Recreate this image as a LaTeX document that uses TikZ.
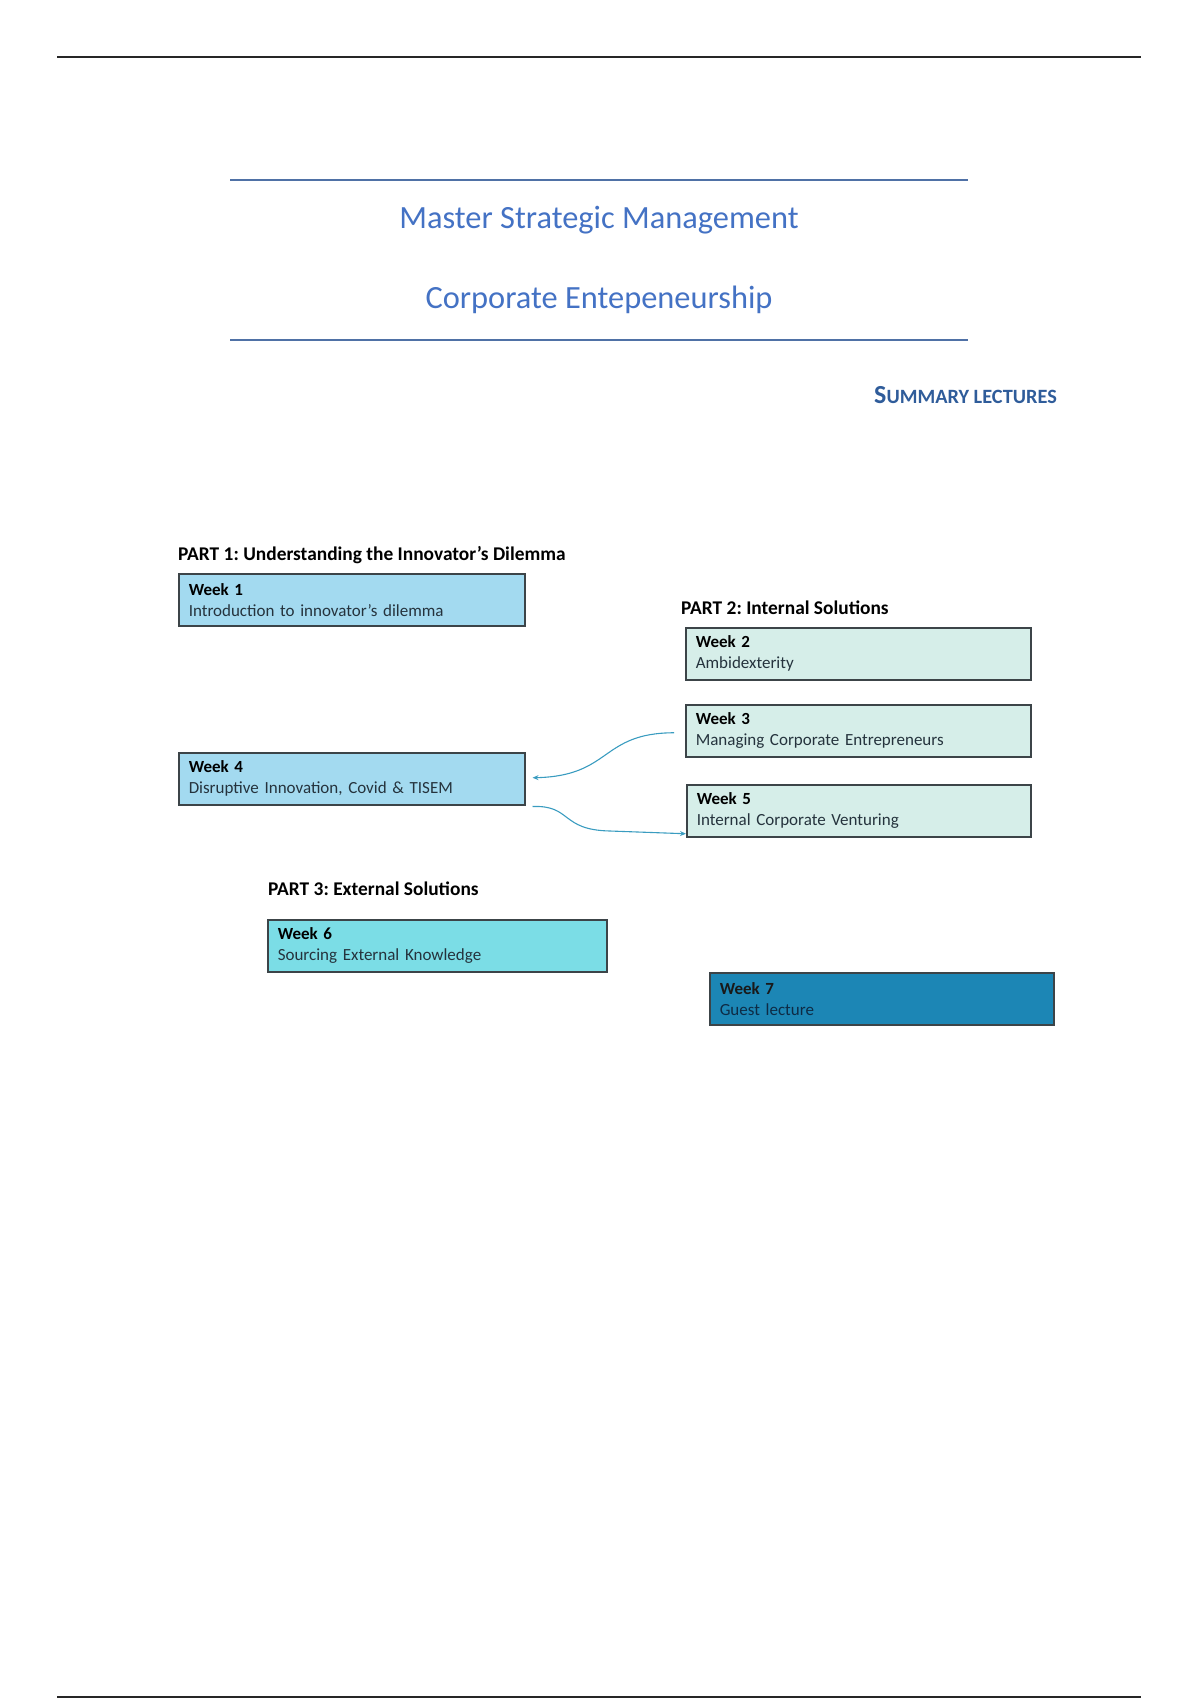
\documentclass[tikz,border=0pt]{standalone}
\usepackage{fontspec}
\setmainfont{Carlito}
\usetikzlibrary{calc,arrows.meta}
\definecolor{titleblue}{HTML}{4472C4}
\definecolor{rulecol}{HTML}{4F71A6}
\definecolor{sumblue}{HTML}{2F5C9A}
\definecolor{lightblue}{HTML}{A3DAF0}
\definecolor{mint}{HTML}{D6EEE9}
\definecolor{cyanbox}{HTML}{7BDDE6}
\definecolor{tealbox}{HTML}{1C86B5}
\definecolor{boxline}{HTML}{3C4448}
\definecolor{arrowcol}{HTML}{3A9CC0}
\definecolor{desccol}{HTML}{25333D}
\definecolor{navytext}{HTML}{0E2B45}
\frenchspacing
\begin{document}
\begin{tikzpicture}[x=1pt,y=-1pt,
  wbox/.style={draw=boxline, line width=1.5pt, anchor=north west, minimum height=52pt,
    inner xsep=10pt, inner ysep=0pt, align=left, text width=#1,
    font=\fontsize{17}{21}\selectfont, text=desccol},
  parthead/.style={anchor=west, inner sep=0pt, font=\fontsize{19.4}{23}\selectfont\bfseries, text=black},
  titletext/.style={inner sep=0pt, text=titleblue, font=\fontsize{32.4}{38}\selectfont},
  conn/.style={draw=arrowcol, line width=1.1pt, -{Stealth[length=6pt,width=5pt]}}
]
\useasboundingbox (0,0) rectangle (1200,1700);

% page rules
\draw[line width=2pt, black!85] (57,57) -- (1141,57);
\draw[line width=2pt, black!85] (57,1697) -- (1141,1697);

% title block
\draw[line width=2pt, rulecol] (230,180) -- (968,180);
\node[titletext] (t1) at (599,220) {Master Strategic Management};
\node[titletext] (t2) at (599,300) {Corporate Entepeneurship};
\draw[line width=2pt, rulecol] (230,340) -- (968,340);
\node[anchor=east, inner sep=0pt, text=sumblue, font=\bfseries] (sum) at (1057,395)
  {{\fontsize{26}{28}\selectfont S}{\fontsize{20.3}{28}\selectfont UMMARY LECTURES}};

% part headings
\node[parthead] (p1) at (178,555) {PART 1: Understanding the Innovator’s Dilemma};
\node[parthead] (p2) at (681,608) {PART 2: Internal Solutions};
\node[parthead] (p3) at (268,889) {PART 3: External Solutions};

% week boxes
\node[wbox=326pt, fill=lightblue] (w1) at (178,573) {\textbf{\color{black}Week 1}\\Introduction to innovator’s dilemma};
\node[wbox=325pt, fill=mint] (w2) at (685,627) {\textbf{\color{black}Week 2}\\Ambidexterity};
\node[wbox=325pt, fill=mint] (w3) at (685,704) {\textbf{\color{black}Week 3}\\Managing Corporate Entrepreneurs};
\node[wbox=326pt, fill=lightblue] (w4) at (178,752) {\textbf{\color{black}Week 4}\\Disruptive Innovation, Covid \& TISEM};
\node[wbox=324pt, fill=mint] (w5) at (686,784) {\textbf{\color{black}Week 5}\\Internal Corporate Venturing};
\node[wbox=319pt, fill=cyanbox] (w6) at (267,919) {\textbf{\color{black}Week 6}\\Sourcing External Knowledge};
\node[wbox=324pt, fill=tealbox, text=navytext] (w7) at (709,972) {\textbf{\color{black!90}Week 7}\\Guest lecture};

% connectors
\coordinate (a1s) at ($(w3.west)+(-11,2)$);
\coordinate (a1e) at ($(w4.east)+(7,-1)$);
\draw[conn] (a1s) .. controls (600,733) and (612,776) .. (a1e);
\coordinate (a2s) at ($(w4.south east)+(7,1)$);
\coordinate (a2e) at ($(w5.west)+(0,23)$);
\draw[conn] (a2s) .. controls (572,805) and (560,830) .. (610,831) -- (a2e);
\end{tikzpicture}
\end{document}
